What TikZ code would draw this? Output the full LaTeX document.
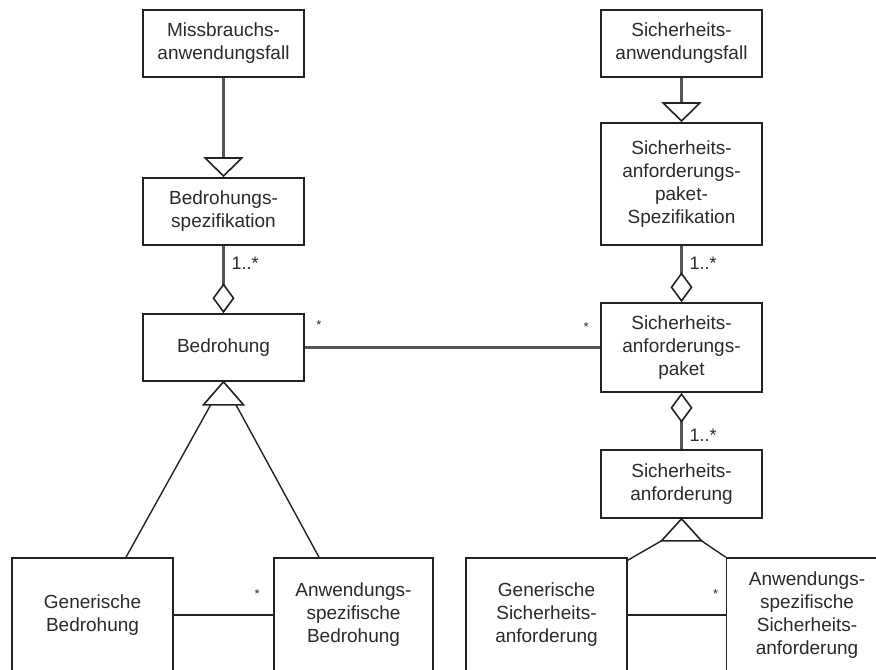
\documentclass[tikz,border=0pt]{standalone}
\usepackage{fontspec}
\setmainfont{Liberation Sans}
\usetikzlibrary{arrows.meta,calc}

\definecolor{boxline}{HTML}{222222}
\definecolor{linkline}{HTML}{555555}
\definecolor{txt}{HTML}{2A2A2A}

\begin{document}
\begin{tikzpicture}[x=1bp,y=-1bp,
  cls/.style={draw=boxline, line width=1.6bp, fill=white, text=txt, align=center,
    minimum width=161bp, inner sep=0pt,
    font=\fontsize{19bp}{23bp}\selectfont},
  link/.style={draw=linkline, line width=2.2bp},
  thin link/.style={draw=boxline, line width=1.4bp},
  gen/.style={link, -{Triangle[open, length=20bp, width=40bp, line width=1.6bp, color=boxline]}},
  agg/.style={link, {Diamond[open, length=30bp, width=22bp, line width=1.6bp, color=boxline]}-},
  mult/.style={text=txt, inner sep=0pt, font=\fontsize{18bp}{20bp}\selectfont},
  star/.style={text=txt, inner sep=0pt, font=\fontsize{13bp}{15bp}\selectfont}
]
\useasboundingbox (0,0) rectangle (876,670);
\clip (0,0) rectangle (876,670);

% left column: misuse side
\node[cls, minimum height=67bp] (miss) at (223.5,43.5) {Missbrauchs-\\anwendungsfall};
\node[cls, minimum height=67bp] (bspec) at (223.5,211.5) {Bedrohungs-\\spezifikation};
\node[cls, minimum height=67bp] (bed) at (223.5,347.5) {Bedrohung};
\node[cls, minimum height=114bp] (gb) at (92.5,615) {Generische\\Bedrohung};
\node[cls, minimum width=159bp, minimum height=114bp] (ab) at (353.5,615) {Anwendungs-\\spezifische\\Bedrohung};

% right column: security side
\node[cls, minimum height=67bp] (sauf) at (681.5,43.5) {Sicherheits-\\anwendungsfall};
\node[cls, minimum height=122bp] (spec) at (681.5,184) {Sicherheits-\\anforderungs-\\paket-\\Spezifikation};
\node[cls, minimum height=89bp] (sap) at (681.5,347.5) {Sicherheits-\\anforderungs-\\paket};
\node[cls, minimum height=68bp] (sa) at (681.5,484) {Sicherheits-\\anforderung};
\node[cls, minimum height=114bp] (gsa) at (546.5,615) {Generische\\Sicherheits-\\anforderung};
\node[cls, minimum height=114bp] (asa) at (807,615) {Anwendungs-\\spezifische\\Sicherheits-\\anforderung};

% generalisations and aggregations
\draw[gen] (miss.south) -- (bspec.north);
\draw[agg] (bed.north) -- (bspec.south);
\draw[gen] (sauf.south) -- (spec.north);
\draw[agg] (sap.north) -- (spec.south);
\draw[agg] (sap.south) -- (sa.north);

% associations
\draw[link] (bed) -- (sap);
\draw[thin link] (gb) -- (ab);
\draw[thin link] (gsa) -- (asa);

% shared generalisation: threats
\coordinate (gbTop) at ($(gb.north)+(33.5,0)$);
\coordinate (abTop) at ($(ab.north)+(-34.5,0)$);
\draw[thin link] (gbTop) -- (bed.south);
\draw[thin link] (abTop) -- (bed.south);
\draw[draw=boxline, line width=1.6bp, fill=white] (bed.south) -- ++(-20,23) -- ++(40,0) -- cycle;

% shared generalisation: security requirements
\coordinate (saL) at ($(sa.south)+(-20,22)$);
\coordinate (saR) at ($(sa.south)+(20,22)$);
\draw[draw=boxline, line width=1.6bp, fill=white] (sa.south) -- (saL) -- (saR) -- cycle;
\draw[thin link] (saL) -- ($(gsa.north east)+(0,3)$);
\draw[thin link] (saR) -- (asa.north west);

% multiplicities
\node[mult, anchor=west] (m1) at ($(bspec.south)+(8,18)$) {1..*};
\node[mult, anchor=west] (m2) at ($(spec.south)+(8,18)$) {1..*};
\node[mult, anchor=west] (m3) at ($(sa.north)+(8,-14)$) {1..*};
\node[star] (s1) at ($(bed.north east)+(14,12)$) {*};
\node[star] (s2) at ($(sap.north west)+(-14,25)$) {*};
\node[star] (s3) at ($(ab.north west)+(-16,37)$) {*};
\node[star] (s4) at ($(asa.north west)+(-10,37)$) {*};
\end{tikzpicture}
\end{document}
